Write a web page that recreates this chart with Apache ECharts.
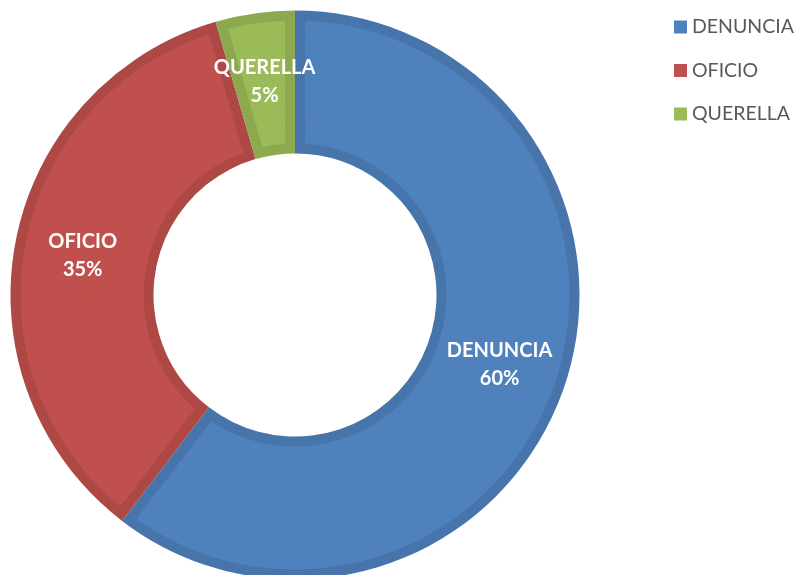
<!DOCTYPE html>
<html>
<head>
<meta charset="utf-8">
<script src="https://cdn.jsdelivr.net/npm/echarts@6/dist/echarts.min.js"></script>
<style>
html,body{margin:0;padding:0;background:#fff;}
#chart{width:796px;height:575px;}
</style>
</head>
<body>
<div id="chart"></div>
<script>
// ---- data (shares; labels rounded like the source) ----
var categories = ['DENUNCIA', 'OFICIO', 'QUERELLA'];
var values = [60.4, 35.1, 4.5];

// ---- styles ----
var lightColors = ['#4F81BD', '#C0504D', '#9BBB59'];
var darkColors = ['#4774AA', '#AD4845', '#8CA950'];
var CX = 295, CY = 295, R0 = 141.5, R1 = 284.5, BW = 10;

function makeData(colors) {
  return categories.map(function (c, i) {
    return { name: c, value: values[i], itemStyle: { color: colors[i] } };
  });
}

var series = [];
// dark base (acts as border)
series.push({
  type: 'pie', silent: true, clockwise: true, startAngle: 90,
  center: [CX, CY], radius: [R0, R1],
  label: { show: false }, labelLine: { show: false },
  itemStyle: { borderWidth: 0 },
  data: makeData(darkColors), z: 1, animation: false
});
// light fill, inset by BW, built in thin rings to keep a constant border width
var rings = 10;
var rin = R0 + BW, rout = R1 - BW;
for (var k = 0; k < rings; k++) {
  var a = rin + (rout - rin) * k / rings;
  var b = rin + (rout - rin) * (k + 1) / rings;
  var mid = (a + b) / 2;
  var pad = 2 * Math.asin(BW / mid) * 180 / Math.PI;
  series.push({
    type: 'pie', silent: true, clockwise: true, startAngle: 90,
    center: [CX, CY], radius: [a, Math.min(b + 1, rout)],
    padAngle: pad,
    label: { show: false }, labelLine: { show: false },
    itemStyle: { borderWidth: 0 },
    data: makeData(lightColors), z: 2, animation: false
  });
}
// labels
series.push({
  type: 'pie', silent: true, clockwise: true, startAngle: 90,
  center: [CX, CY], radius: [R0, R1], percentPrecision: 0,
  itemStyle: { color: 'rgba(0,0,0,0)', borderWidth: 0 },
  label: {
    show: true, position: 'inside', formatter: '{b}\n{d}%',
    color: '#FFFFFF', fontFamily: 'Lato', fontWeight: 'bold', fontSize: 20, lineHeight: 28
  },
  labelLine: { show: false },
  data: categories.map(function (c, i) { return { name: c, value: values[i] }; }),
  z: 3, animation: false
});

var chart = echarts.init(document.getElementById('chart'));
chart.setOption({
  animation: false,
  legend: {
    orient: 'vertical', left: 674, top: 17, padding: 0,
    itemWidth: 13, itemHeight: 13, itemGap: 23.5, icon: 'rect',
    textStyle: { fontFamily: 'Lato', fontSize: 19.5, color: '#595959', lineHeight: 20 },
    data: categories.map(function (c, i) { return { name: c, itemStyle: { color: lightColors[i] } }; }),
    selectedMode: false
  },
  series: series
});
</script>
</body>
</html>
